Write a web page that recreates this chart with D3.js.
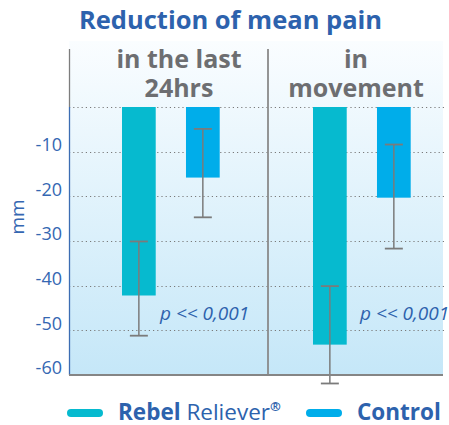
<!DOCTYPE html>
<html><head><meta charset="utf-8">
<script src="https://cdn.jsdelivr.net/npm/d3@7/dist/d3.min.js"></script>
<style>
html,body{margin:0;padding:0;background:#fff;}
svg{display:block;font-family:"Open Sans",sans-serif;}
</style></head>
<body><svg id="c" width="449" height="425"></svg>
<script>
// ---- data ----
const categories = [["in the last", "24hrs"], ["in", "movement"]];
const seriesNames = ["Rebel Reliever", "Control"];
const rebelValues = [-42.2, -53.2];
const controlValues = [-15.8, -20.3];
const rebelErrUpper = [-30.1, -40.1];
const rebelErrLower = [-51.2, -61.9];
const controlErrUpper = [-4.9, -8.4];
const controlErrLower = [-24.7, -31.7];
const yTicks = [-10, -20, -30, -40, -50, -60];
const gridValues = [0, -10, -20, -30, -40, -50];
const pLabels = ["p << 0,001", "p << 0,001"];
const titleText = "Reduction of mean pain";
const yLabel = "mm";

// ---- layout ----
const svg = d3.select("#c");
const plotL = 69, plotR = 443, plotTop = 49, plotBottom = 375;
const dividerX = 268;
const colors = {"Rebel Reliever": "#06bacf", "Control": "#00adea"};
const blue = "#2d62ad", gray = "#6d6e71";

const y = d3.scaleLinear().domain([0, -60]).range([107, 375]);
const x0 = d3.scaleBand().domain(d3.range(categories.length)).range([75.5, 457.5]);
const x1 = d3.scaleBand().domain(seriesNames).range([46.5, 144.2]).paddingInner(0.473).paddingOuter(0);

// background gradient
const defs = svg.append("defs");
const grad = defs.append("linearGradient").attr("id", "bg").attr("x1", 0).attr("y1", 0).attr("x2", 0).attr("y2", 1);
grad.append("stop").attr("offset", "0%").attr("stop-color", "#fafdff");
grad.append("stop").attr("offset", "100%").attr("stop-color", "#c5e7f8");
svg.append("rect").attr("x", plotL).attr("y", plotTop - 8).attr("width", plotR - plotL).attr("height", plotBottom - plotTop + 8)
  .attr("fill", "url(#bg)");

// gridlines
svg.append("g").selectAll("line").data(gridValues).join("line")
  .attr("x1", plotL).attr("x2", plotR + 2)
  .attr("y1", d => Math.round(y(d)) + 0.5).attr("y2", d => Math.round(y(d)) + 0.5)
  .attr("stroke", "#7a7a7a").attr("stroke-width", 1).attr("stroke-dasharray", "1.2,3");

// title
svg.append("text").attr("x", 230.5).attr("y", 29).attr("text-anchor", "middle")
  .attr("font-size", 25.5).attr("font-weight", 700).attr("fill", blue).text(titleText);

// category labels
categories.forEach((lines, i) => {
  const cx = i === 0 ? (plotL + dividerX) / 2 + 10.5 : (dividerX + plotR) / 2 + 0.5;
  lines.forEach((ln, j) => {
    svg.append("text").attr("x", cx).attr("y", 68 + j * 29).attr("text-anchor", "middle")
      .attr("font-size", 25).attr("font-weight", 700).attr("fill", gray).text(ln);
  });
});

// bars
const rows = categories.map((c, i) => ({
  i,
  vals: [
    {s: seriesNames[0], v: rebelValues[i], hi: rebelErrUpper[i], lo: rebelErrLower[i]},
    {s: seriesNames[1], v: controlValues[i], hi: controlErrUpper[i], lo: controlErrLower[i]}
  ]
}));
const g = svg.append("g").selectAll("g").data(rows).join("g")
  .attr("transform", d => `translate(${x0(d.i)},0)`);
g.selectAll("rect").data(d => d.vals).join("rect")
  .attr("x", d => x1(d.s)).attr("width", x1.bandwidth())
  .attr("y", d => y(0)).attr("height", d => y(d.v) - y(0))
  .attr("fill", d => colors[d.s]);

// error bars
const eb = g.selectAll("g.err").data(d => d.vals).join("g").attr("class", "err");
eb.append("line")
  .attr("x1", d => x1(d.s) + x1.bandwidth() / 2).attr("x2", d => x1(d.s) + x1.bandwidth() / 2)
  .attr("y1", d => y(d.hi)).attr("y2", d => y(d.lo))
  .attr("stroke", "#7b7b7b").attr("stroke-width", 1.5);
["hi", "lo"].forEach(k => {
  eb.append("line")
    .attr("x1", d => x1(d.s) + x1.bandwidth() / 2 - 9).attr("x2", d => x1(d.s) + x1.bandwidth() / 2 + 9)
    .attr("y1", d => y(d[k])).attr("y2", d => y(d[k]))
    .attr("stroke", "#7b7b7b").attr("stroke-width", 1.8);
});

// p labels
const pOffsets = [-26, -17];
g.append("text")
  .attr("x", d => x1(seriesNames[1]) + pOffsets[d.i]).attr("y", 320)
  .attr("font-size", 19).attr("font-style", "italic").attr("fill", blue)
  .text(d => pLabels[d.i]);

// axes lines
svg.append("line").attr("x1", plotL + 0.5).attr("x2", plotL + 0.5).attr("y1", plotTop).attr("y2", 107)
  .attr("stroke", "#7d7d7d").attr("stroke-width", 1.3);
svg.append("line").attr("x1", plotL + 0.5).attr("x2", plotL + 0.5).attr("y1", 107).attr("y2", plotBottom)
  .attr("stroke", "#3c6db3").attr("stroke-width", 1.3);
svg.append("line").attr("x1", dividerX).attr("x2", dividerX).attr("y1", plotTop).attr("y2", plotBottom)
  .attr("stroke", "#8a8a8a").attr("stroke-width", 1.8);
svg.append("line").attr("x1", plotL).attr("x2", plotR).attr("y1", plotBottom).attr("y2", plotBottom)
  .attr("stroke", "#858585").attr("stroke-width", 1.8);

// y tick labels
const yAxis = d3.axisLeft(y).tickValues(yTicks).tickSize(0).tickPadding(0).tickFormat(d => String(d));
const ya = svg.append("g").attr("transform", `translate(${plotL - 7},-7)`).call(yAxis);
ya.select(".domain").remove();
ya.selectAll("text").attr("font-size", 18).attr("fill", "#3567b2").attr("font-family", "Open Sans, sans-serif");

// y label
svg.append("text").attr("transform", "translate(24,217) rotate(-90)").attr("text-anchor", "middle")
  .attr("font-size", 19).attr("fill", "#3567b2").text(yLabel);

// legend
const leg = svg.append("g");
const legItems = [{s: seriesNames[0], x: 67}, {s: seriesNames[1], x: 306}];
leg.selectAll("line").data(legItems).join("line")
  .attr("x1", d => d.x + 4).attr("x2", d => d.x + 32).attr("y1", 413).attr("y2", 413)
  .attr("stroke", d => colors[d.s]).attr("stroke-width", 8).attr("stroke-linecap", "round");
const t1 = leg.append("text").attr("x", 118).attr("y", 420).attr("font-size", 22.5).attr("fill", blue);
t1.append("tspan").attr("font-weight", 700).text(seriesNames[0].split(" ")[0]);
t1.append("tspan").text(" " + seriesNames[0].split(" ")[1]);
t1.append("tspan").attr("font-weight", 700).attr("font-size", 13).attr("dy", -9).text("®");
leg.append("text").attr("x", 357).attr("y", 420).attr("font-size", 22.5).attr("font-weight", 700).attr("fill", blue)
  .text(seriesNames[1]);
</script></body></html>
